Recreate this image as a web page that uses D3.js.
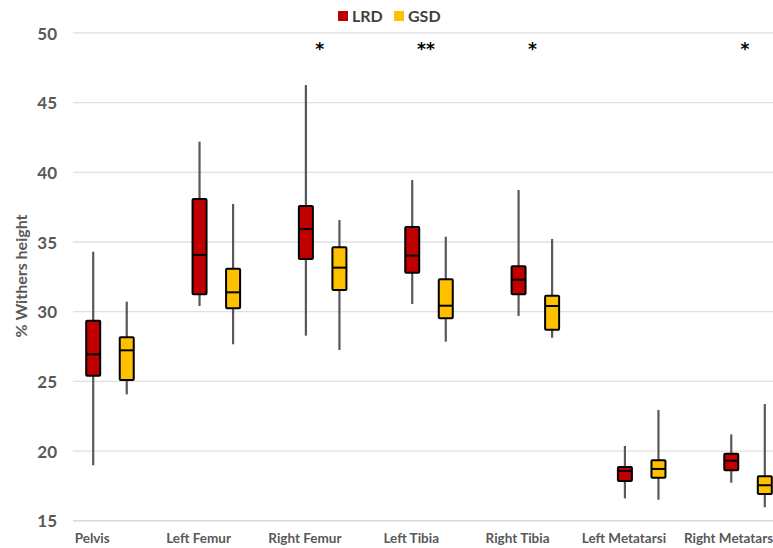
<!DOCTYPE html>
<html>
<head>
<meta charset="utf-8">
<script src="https://cdn.jsdelivr.net/npm/d3@7"></script>
<style>
  html, body { margin: 0; padding: 0; background: #fff; }
  svg { display: block; font-family: Lato, "Open Sans", sans-serif; }
</style>
</head>
<body>
<svg id="chart" width="773" height="548"></svg>
<script>
const categories = ["Pelvis", "Left Femur", "Right Femur", "Left Tibia", "Right Tibia", "Left Metatarsi", "Right Metatarsi"];
const seriesNames = ["LRD", "GSD"];
const seriesColors = ["#C00000", "#FFC000"];
// [min, q1, median, q3, max]
const lrdStats = [
  [18.98, 25.41, 26.94, 29.35, 34.3],
  [30.41, 31.25, 34.07, 38.08, 42.2],
  [28.28, 33.78, 35.93, 37.58, 46.26],
  [30.55, 32.8, 34.02, 36.08, 39.45],
  [29.69, 31.25, 32.3, 33.26, 38.73],
  [16.61, 17.85, 18.57, 18.86, 20.37],
  [17.73, 18.62, 19.31, 19.81, 21.2]
];
const gsdStats = [
  [24.07, 25.1, 27.23, 28.16, 30.72],
  [27.66, 30.24, 31.39, 33.09, 37.73],
  [27.25, 31.56, 33.16, 34.62, 36.58],
  [27.85, 29.53, 30.43, 32.32, 35.38],
  [28.13, 28.71, 30.41, 31.15, 35.22],
  [16.51, 18.09, 18.72, 19.34, 22.95],
  [15.97, 16.92, 17.55, 18.19, 23.38]
];
const significance = ["", "", "*", "**", "*", "", "*"];
const yTicks = [15, 20, 25, 30, 35, 40, 45, 50];
const yTitle = "% Withers height";

const svg = d3.select("#chart");
const W = 773, H = 548;

const y = d3.scaleLinear().domain([15, 50]).range([520.8, 32.9]);
const x = d3.scaleBand().domain(categories).range([56.8, 801.2]).paddingInner(0).paddingOuter(0);
const xs = d3.scaleBand().domain(seriesNames).range([0, x.bandwidth()]).paddingInner(0.5).paddingOuter(0.835);

const gridLeft = 73, gridRight = 800;

// gridlines
svg.append("g").selectAll("line").data(yTicks.filter(t => t > 15)).join("line")
  .attr("x1", gridLeft).attr("x2", gridRight)
  .attr("y1", d => y(d)).attr("y2", d => y(d))
  .attr("stroke", "#e0e0e0").attr("stroke-width", 1.3);

// axis baseline
svg.append("line").attr("x1", gridLeft).attr("x2", gridRight)
  .attr("y1", y(15)).attr("y2", y(15))
  .attr("stroke", "#d0d0d0").attr("stroke-width", 1.3);

// y axis labels
const yAxis = d3.axisLeft(y).tickValues(yTicks).tickSize(0).tickPadding(0);
const yg = svg.append("g").attr("transform", "translate(57,0)").call(yAxis);
yg.select(".domain").remove();
yg.selectAll("text")
  .attr("font-family", "Lato, sans-serif")
  .attr("font-size", 17).attr("font-weight", "bold").attr("fill", "#595959")
  .attr("dy", "0.36em");

// y title
svg.append("text")
  .attr("transform", "translate(27,276) rotate(-90)")
  .attr("text-anchor", "middle")
  .attr("font-size", 16).attr("font-weight", "bold").attr("fill", "#595959")
  .text(yTitle);

// x labels, centered under first series box
svg.append("g").selectAll("text").data(categories).join("text")
  .attr("x", d => x(d) + xs("LRD") + xs.bandwidth() / 2 - 1)
  .attr("y", 543)
  .attr("text-anchor", "middle")
  .attr("font-size", 13.5).attr("font-weight", "bold").attr("fill", "#595959")
  .text(d => d);

// boxes
const boxW = 14;
const allSeries = [lrdStats, gsdStats];
allSeries.forEach((stats, si) => {
  const g = svg.append("g");
  const data = stats.map((s, i) => ({cat: categories[i], s}));
  const cx = d => x(d.cat) + xs(seriesNames[si]) + xs.bandwidth() / 2;
  g.selectAll("line.wh").data(data).join("line").attr("class", "wh")
    .attr("x1", cx).attr("x2", cx)
    .attr("y1", d => y(d.s[0])).attr("y2", d => y(d.s[4]))
    .attr("stroke", "#595959").attr("stroke-width", 2.2);
  g.selectAll("rect").data(data).join("rect")
    .attr("x", d => cx(d) - boxW / 2).attr("width", boxW)
    .attr("y", d => y(d.s[3])).attr("height", d => y(d.s[1]) - y(d.s[3]))
    .attr("fill", seriesColors[si]).attr("stroke", "#000").attr("stroke-width", 2)
    .attr("rx", 1);
  g.selectAll("line.med").data(data).join("line").attr("class", "med")
    .attr("x1", d => cx(d) - boxW / 2).attr("x2", d => cx(d) + boxW / 2)
    .attr("y1", d => y(d.s[2])).attr("y2", d => y(d.s[2]))
    .attr("stroke", "#000").attr("stroke-width", 2);
});

// significance stars
svg.append("g").selectAll("text").data(categories).join("text")
  .attr("x", d => x(d) + x.bandwidth() / 2 - 3)
  .attr("y", 55)
  .attr("text-anchor", "middle")
  .attr("font-size", 17).attr("font-weight", "bold").attr("fill", "#000")
  .attr("font-family", "DejaVu Sans, sans-serif")
  .text((d, i) => significance[i]);

// legend
const leg = svg.append("g");
const legX = [338, 394];
seriesNames.forEach((n, i) => {
  leg.append("rect").attr("x", legX[i]).attr("y", 11).attr("width", 10).attr("height", 10)
    .attr("fill", seriesColors[i]);
  leg.append("text").attr("x", legX[i] + 14).attr("y", 22)
    .attr("font-size", 16).attr("font-weight", "bold").attr("fill", "#404040")
    .text(n);
});
</script>
</body>
</html>
